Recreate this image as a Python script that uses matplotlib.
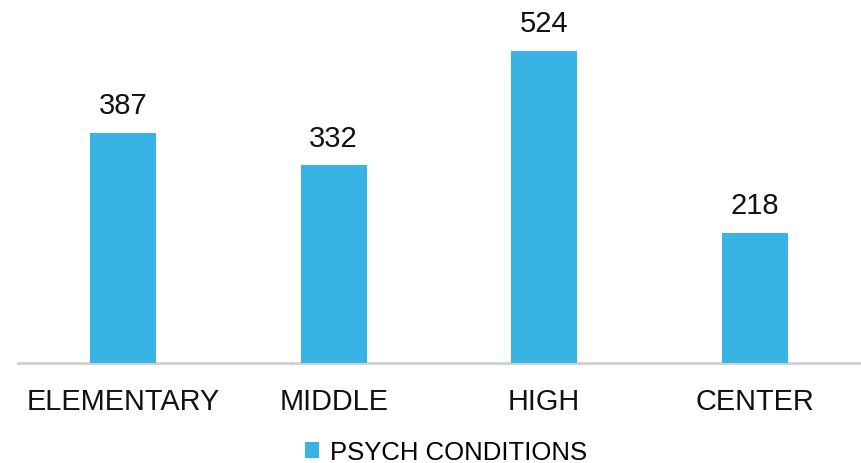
import matplotlib
matplotlib.use('Agg')
import matplotlib.pyplot as plt

plt.rcParams['font.family'] = ['Liberation Sans', 'DejaVu Sans']

categories = ['ELEMENTARY', 'MIDDLE', 'HIGH', 'CENTER']
values = [387, 332, 524, 218]
series_name = 'PSYCH CONDITIONS'
bar_color = '#37B4E3'

fig = plt.figure(figsize=(8.62, 4.64), dpi=100)
ax = fig.add_axes([18/862, 100/464, 842/862, 357/464])

x = list(range(len(categories)))
bars = ax.bar(x, values, width=0.314, color=bar_color, label=series_name, zorder=2)

for b, v in zip(bars, values):
    ax.annotate(str(v), (b.get_x() + b.get_width()/2, v), xytext=(0, 10),
                textcoords='offset points', ha='center', va='bottom', fontsize=21, color='#111111')

ax.set_xlim(-0.5, 3.5)
ax.set_ylim(0, 600)
ax.set_xticks(x)
ax.set_xticklabels(categories, fontsize=20.8, color='#111111')
ax.tick_params(axis='x', length=0, pad=17)
ax.set_yticks([])
for s in ['top', 'right', 'left']:
    ax.spines[s].set_visible(False)
ax.spines['bottom'].set_color('#D0D0D0')
ax.spines['bottom'].set_linewidth(2)
ax.spines['bottom'].set_zorder(1)

fig.legend(loc='center', bbox_to_anchor=(446/862, 1 - 453/464), frameon=False, fontsize=18.5,
           handlelength=0.55, handleheight=0.55, handletextpad=0.4, borderpad=0)

fig.savefig('out.png', dpi=100)
